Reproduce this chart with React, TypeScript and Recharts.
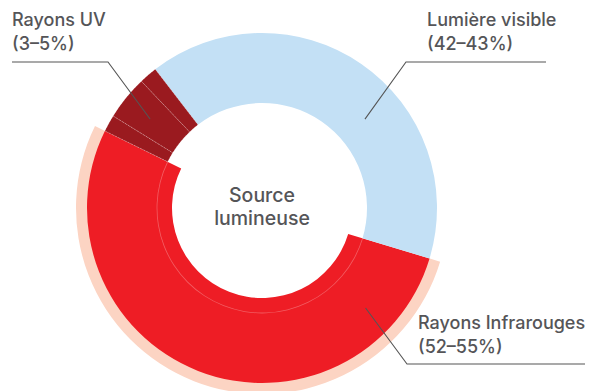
import React from 'react';
import { PieChart, Pie, Cell, Label } from 'recharts';

// Top-level categories of emitted radiation and their share of the ring (%)
const categories = ['Lumière visible', 'Rayons Infrarouges', 'Rayons UV'];
const rangeLabels = ['(42–43%)', '(52–55%)', '(3–5%)'];
const shares = [40.1, 52.6, 7.3];

// The UV share is split into three bands
const uvBands = ['UVA', 'UVB', 'UVC'];
const uvShares = [1.56, 4.08, 1.66];

const centerLines = ['Source', 'lumineuse'];

const COLORS = {
  visible: '#c3e0f5',
  infrared: '#ee1d25',
  uv: '#9a1a1f',
  glow: '#fcd4c3',
  text: '#555558',
  line: '#555555',
};

const ringData = [
  { name: categories[0], value: shares[0], kind: 'visible' },
  { name: categories[1], value: shares[1], kind: 'infrared' },
  ...uvBands.map((b, i) => ({ name: b, value: uvShares[i], kind: 'uv' })),
];

const labelData = categories.map((c, i) => ({ name: c, value: shares[i], range: rangeLabels[i] }));

const CX = 262;
const CY = 208;
const START = 127.6;
const END = START - 360;

// Callout placement for each category (text anchor, elbow, shelf end, pointer)
const callouts = [
  { tx: 427, ty: 26, ex: 406, ey: 62, sx: 546, angle: 40.8, r: 136 },
  { tx: 418, ty: 329, ex: 407, ey: 364, sx: 585, angle: -44, r: 144 },
  { tx: 12, ty: 26, ex: 108, ey: 62, sx: 12, angle: 141.5, r: 143 },
];

const FONT = 'Inter, "Noto Sans", sans-serif';

const renderCallout = (props: any) => {
  const { cx, cy, index } = props;
  const c = callouts[index];
  const d = labelData[index];
  const rad = (c.angle * Math.PI) / 180;
  const px = cx + c.r * Math.cos(rad);
  const py = cy - c.r * Math.sin(rad);
  return (
    <g key={`callout-${index}`}>
      <polyline
        points={`${c.sx},${c.ey} ${c.ex},${c.ey} ${px},${py}`}
        fill="none"
        stroke={COLORS.line}
        strokeWidth={1.1}
      />
      <text
        x={c.tx}
        y={c.ty}
        fill={COLORS.text}
        fontFamily={FONT}
        fontSize={18}
        fontWeight={500}
        textAnchor="start"
      >
        <tspan x={c.tx} dy={0}>{d.name}</tspan>
        <tspan x={c.tx} dy={24}>{d.range}</tspan>
      </text>
    </g>
  );
};

const renderCenter = (props: any) => {
  const vb = props.viewBox || {};
  const cx = vb.cx ?? CX;
  const cy = vb.cy ?? CY;
  return (
    <text
      x={cx}
      y={cy - 6}
      fill={COLORS.text}
      fontFamily={FONT}
      fontSize={19.5}
      fontWeight={500}
      textAnchor="middle"
    >
      <tspan x={cx} dy={0}>{centerLines[0]}</tspan>
      <tspan x={cx} dy={23}>{centerLines[1]}</tspan>
    </text>
  );
};

export default function App() {
  return (
    <div style={{ position: 'absolute', left: 0, top: 0, width: 590, height: 391, background: '#fff' }}>
      <PieChart width={590} height={391} margin={{ top: 0, right: 0, bottom: 0, left: 0 }}>
        {/* soft glow behind the infrared arc */}
        <Pie
          data={ringData}
          dataKey="value"
          cx={CX}
          cy={CY}
          startAngle={START}
          endAngle={END}
          innerRadius={172}
          outerRadius={186}
          stroke="none"
          isAnimationActive={false}
        >
          {ringData.map((d, i) => (
            <Cell key={i} fill={d.kind === 'infrared' ? COLORS.glow : 'transparent'} />
          ))}
        </Pie>
        {/* infrared arc, deeper than the rest of the ring */}
        <Pie
          data={ringData}
          dataKey="value"
          cx={CX}
          cy={CY}
          startAngle={START}
          endAngle={END}
          innerRadius={90}
          outerRadius={175}
          stroke="none"
          isAnimationActive={false}
        >
          {ringData.map((d, i) => (
            <Cell key={i} fill={d.kind === 'infrared' ? COLORS.infrared : 'transparent'} />
          ))}
        </Pie>
        {/* visible and UV arcs */}
        <Pie
          data={ringData}
          dataKey="value"
          cx={CX}
          cy={CY}
          startAngle={START}
          endAngle={END}
          innerRadius={105}
          outerRadius={175}
          stroke="none"
          isAnimationActive={false}
        >
          {ringData.map((d, i) => (
            <Cell
              key={i}
              fill={d.kind === 'infrared' ? 'transparent' : COLORS[d.kind as 'visible' | 'uv']}
              stroke={d.kind === 'uv' ? 'rgba(255,255,255,0.3)' : 'none'}
              strokeWidth={0.8}
              strokeDasharray={d.kind === 'uv' ? '2 1.5' : undefined}
            />
          ))}
        </Pie>
        {/* faint inner guide inside the infrared arc */}
        <Pie
          data={ringData}
          dataKey="value"
          cx={CX}
          cy={CY}
          startAngle={START}
          endAngle={END}
          innerRadius={104.6}
          outerRadius={105.4}
          stroke="none"
          isAnimationActive={false}
        >
          {ringData.map((d, i) => (
            <Cell key={i} fill={d.kind === 'infrared' ? 'rgba(255,255,255,0.28)' : 'transparent'} />
          ))}
        </Pie>
        {/* callouts and centre title */}
        <Pie
          data={labelData}
          dataKey="value"
          cx={CX}
          cy={CY}
          startAngle={START}
          endAngle={END}
          innerRadius={0}
          outerRadius={1}
          stroke="none"
          fill="transparent"
          label={renderCallout}
          labelLine={false}
          isAnimationActive={false}
        >
          <Label position="center" content={renderCenter} />
        </Pie>
      </PieChart>
    </div>
  );
}
